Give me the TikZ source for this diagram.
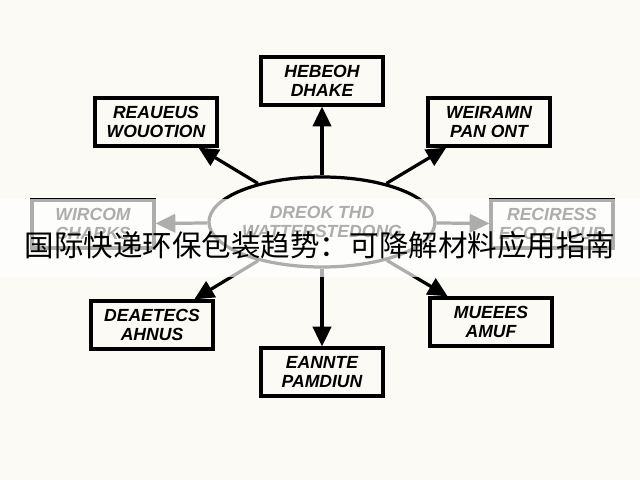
\documentclass[tikz,border=0pt]{standalone}
\usepackage{fontspec}
\setsansfont{Liberation Sans}
\newfontfamily\cjk{Noto Sans CJK SC}
\usetikzlibrary{arrows.meta,shapes.geometric}
\definecolor{paper}{HTML}{FBFAF4}

\tikzset{
  topic/.style={draw, line width=2.3pt, minimum width=3.05cm, minimum height=1.2cm,
    align=center, font=\sffamily\bfseries\itshape\fontsize{12.5}{13.5}\selectfont},
  hub/.style={topic, ellipse, minimum width=5.2cm, minimum height=2.25cm, inner sep=0pt},
  spoke/.style={line width=2.3pt, -{Triangle[length=14pt,width=13pt]}},
}

\begin{document}
\begin{tikzpicture}[x=0.025cm,y=-0.025cm]
\useasboundingbox[fill=paper] (0,0) rectangle (640,480);

% hub and the eight topics
\node[hub] (hub) at (322,222) {DREOK THD\\WATTERSTEDONG};
\node[topic] (n)  at (322,81)  {HEBEOH\\DHAKE};
\node[topic] (nw) at (156,122) {REAUEUS\\WOUOTION};
\node[topic] (ne) at (489,122) {WEIRAMN\\PAN ONT};
\node[topic] (w)  at (93,224)  {WIRCOM\\CHARKS};
\node[topic] (e)  at (552,224) {RECIRESS\\ECO GLOUR};
\node[topic] (sw) at (152,325) {DEAETECS\\AHNUS};
\node[topic] (se) at (491,322) {MUEEES\\AMUF};
\node[topic] (s)  at (322,372) {EANNTE\\PAMDIUN};

\foreach \t in {n,nw,ne,w,e,sw,se,s}
  \draw[spoke] (hub) -- (\t);

% washed-out band behind the title
\fill[white, opacity=0.68] (0,199) rectangle (640,277);
\node (title) at (320,245) {\cjk\fontsize{21}{21}\selectfont 国际快递环保包装趋势：可降解材料应用指南};
\end{tikzpicture}
\end{document}
